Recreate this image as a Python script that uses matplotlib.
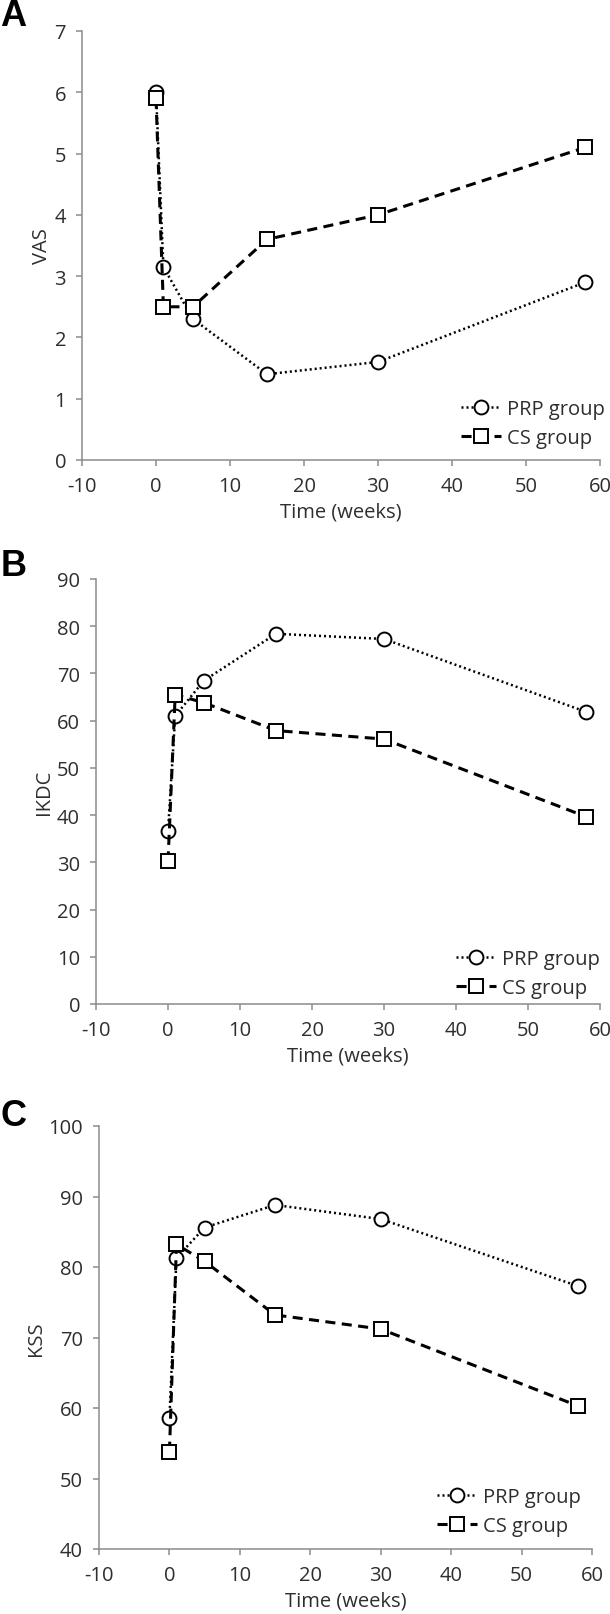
import matplotlib
matplotlib.use("Agg")
import matplotlib.pyplot as plt

plt.rcParams['font.family'] = ['Open Sans', 'DejaVu Sans']
plt.rcParams['axes.unicode_minus'] = False

# time points (weeks)
weeks = [0, 1, 5, 15, 30, 58]

# panel A - VAS
vas_prp = [6.0, 3.15, 2.3, 1.4, 1.6, 2.9]
vas_cs = [5.9, 2.5, 2.5, 3.6, 4.0, 5.1]

# panel B - IKDC
ikdc_prp = [36.6, 61.0, 68.5, 78.4, 77.3, 61.9]
ikdc_cs = [30.2, 65.5, 63.8, 57.9, 56.1, 39.7]

# panel C - KSS
kss_prp = [58.6, 81.3, 85.6, 88.8, 86.8, 77.3]
kss_cs = [53.8, 83.2, 80.8, 73.2, 71.2, 60.3]

xticks = [-10, 0, 10, 20, 30, 40, 50, 60]

W, H = 610, 1615
fig = plt.figure(figsize=(W / 100, H / 100), dpi=100)

# (left, right, top, bottom) in pixels, ylim, yticks, ylabel, letter, legend anchor
panels = [
    ((82, 600, 32, 461), (0, 7), [0, 1, 2, 3, 4, 5, 6, 7], 'VAS', 'A',
     vas_prp, vas_cs, (0.732, 0.086), (0, 17)),
    ((96, 600, 580, 1005), (0, 90), list(range(0, 91, 10)), 'IKDC', 'B',
     ikdc_prp, ikdc_cs, (0.714, 0.072), (1, 566)),
    ((99, 592, 1127, 1550), (40, 100), list(range(40, 101, 10)), 'KSS', 'C',
     kss_prp, kss_cs, (0.685, 0.088), (1, 1116)),
]

grey = '#8c8c8c'
txt = '#2e2e2e'
fs = 14.5

for (l, r, t, b), ylim, yt, ylab, letter, prp, cs, leg_xy, let_xy in panels:
    ax = fig.add_axes([l / W, 1 - b / H, (r - l) / W, (b - t) / H])
    ax.plot(weeks, prp, color='black', lw=1.8, linestyle=(0, (0.8, 1.2)),
            marker='o', markersize=10, markerfacecolor='white',
            markeredgecolor='black', markeredgewidth=1.4, label='PRP group')
    ax.plot(weeks, cs, color='black', lw=2.2, linestyle=(0, (3.3, 2.1)),
            marker='s', markersize=9.5, markerfacecolor='white',
            markeredgecolor='black', markeredgewidth=1.4, label='CS group')
    ax.set_xlim(-10, 60)
    ax.set_ylim(*ylim)
    ax.set_xticks(xticks)
    ax.set_yticks(yt)
    for s in ['top', 'right']:
        ax.spines[s].set_visible(False)
    for s in ['left', 'bottom']:
        ax.spines[s].set_color(grey)
        ax.spines[s].set_linewidth(1.1)
    ax.tick_params(axis='both', direction='out', length=4.5, width=1.1,
                   color=grey, labelcolor=txt, labelsize=fs, pad=7)
    ax.set_xlabel('Time (weeks)', fontsize=fs, color=txt, labelpad=4)
    ax.set_ylabel(ylab, fontsize=fs, color=txt, labelpad=2)
    for line in ax.lines:
        line.set_clip_on(False)
    ax.legend(loc='center left', bbox_to_anchor=leg_xy, frameon=False,
              fontsize=fs, handlelength=2.0, handletextpad=0.3,
              borderpad=0, borderaxespad=0, labelspacing=0.45,
              labelcolor=txt)
    fig.text(let_xy[0] / W, 1 - let_xy[1] / H, letter, fontsize=26,
             fontweight='bold', family='Liberation Sans', va='center',
             ha='left', color='black')

fig.savefig('out.png', dpi=100)
